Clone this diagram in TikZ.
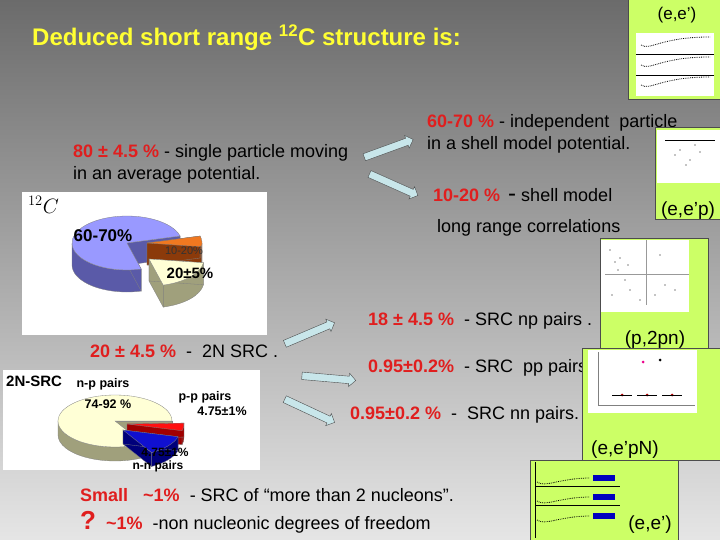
\documentclass[tikz,border=0pt]{standalone}
\usepackage{fontspec}
\setmainfont{Liberation Sans}
\usetikzlibrary{shapes.arrows}
\definecolor{tred}{HTML}{E01E1E}
\definecolor{lime}{HTML}{CCFF66}
\definecolor{title}{HTML}{FFFF33}
\definecolor{arrowfill}{HTML}{C8E6EA}
\definecolor{bluetop}{HTML}{9999FF}
\definecolor{blueside}{HTML}{5A5AA8}
\definecolor{ortop}{HTML}{F07820}
\definecolor{orside}{HTML}{8B3A0A}
\definecolor{crtop}{HTML}{FFFFD6}
\definecolor{crside}{HTML}{A0A07C}
\definecolor{rdtop}{HTML}{FF1010}
\definecolor{rdside}{HTML}{A00000}
\definecolor{bltop}{HTML}{1010D0}
\definecolor{blside}{HTML}{00007A}
\tikzset{
 txt/.style={anchor=west,inner sep=0pt,font=\fontsize{18}{20}\selectfont},
 panel/.style={fill=lime,draw=black!70,line width=1pt},
 plot/.style={fill=white,draw=none},
 plab/.style={font=\fontsize{19}{20}\selectfont,inner sep=0pt},
 barrow/.style={single arrow,draw=black!70,fill=arrowfill,minimum width=13pt,single arrow head extend=3pt,single arrow head indent=0pt,inner xsep=0pt,inner ysep=3.5pt,minimum height=#1},
 plbl/.style={font=\fontsize{12.5}{12.5}\selectfont\bfseries,inner sep=0pt},
}
\newcommand\rx{55}\newcommand\ry{27}\newcommand\dep{22}
\newcommand\pslice[7]{% dx dy a b top side frontlist
 \begin{scope}[shift={(#1,#2)}]
 \foreach \s/\e in {#7}{\fill[#6,draw=black!50,line width=.3pt] (\s:\rx pt and \ry pt) arc[start angle=\s,end angle=\e,x radius=\rx pt,y radius=\ry pt] -- ++(0pt,-\dep pt) arc[start angle=\e,end angle=\s,x radius=\rx pt,y radius=\ry pt] -- cycle;}
 \fill[#6,draw=black!50,line width=.3pt] (0pt,0pt) -- (#3:\rx pt and \ry pt) -- ++(0pt,-\dep pt) -- (0pt,-\dep pt) -- cycle;
 \fill[#6,draw=black!50,line width=.3pt] (0pt,0pt) -- (#4:\rx pt and \ry pt) -- ++(0pt,-\dep pt) -- (0pt,-\dep pt) -- cycle;
 \fill[#5,draw=black!50,line width=.3pt] (0pt,0pt) -- (#3:\rx pt and \ry pt) arc[start angle=#3,end angle=#4,x radius=\rx pt,y radius=\ry pt] -- cycle;
 \end{scope}}
\newcommand\tl{\textasciitilde}
\begin{document}
\begin{tikzpicture}[x=1pt,y=-1pt]
\shade[top color=black!58,bottom color=black!10] (0,0) rectangle (720,540);
\useasboundingbox (0,0) rectangle (720,540);
% title
\node[anchor=west,inner sep=0pt,text=title,font=\fontsize{24}{26}\selectfont\bfseries] (title) at (32,38) {Deduced short range \textsuperscript{12}C structure is:};
% first texts
\node[txt] (t80) at (73,153) {\textcolor{tred}{\bfseries 80 ± 4.5 \%} - single particle moving};
\node[txt] (t80b) at (73,175) {in an average potential.};
\node[txt] (t60) at (427,123) {\textcolor{tred}{\bfseries 60-70 \%} - independent\ \ particle};
\node[txt] (t60b) at (427,145) {in a shell model potential.};
\node[txt] (t10) at (433,195) {\textcolor{tred}{\bfseries 10-20 \%} \,{\fontsize{24}{24}\selectfont -} shell model};
\node[txt] (t10b) at (437,228) {long range correlations};
\node[txt] (t20) at (90,351) {\textcolor{tred}{\bfseries 20 ± 4.5 \%}\ \ -\ \ 2N SRC .};
\node[txt] (t18) at (368,321) {\textcolor{tred}{\bfseries 18 ± 4.5 \%}\ \ - SRC np pairs .};
\node[txt] (tpp) at (368,368) {\textcolor{tred}{\bfseries 0.95±0.2\%}\ \ - SRC\ \ pp pairs};
\node[txt] (tnn) at (350,415) {\textcolor{tred}{\bfseries 0.95±0.2 \%}\ \ -\ \ SRC nn pairs.};
\node[txt] (tsm) at (80,495) {\textcolor{tred}{\bfseries Small\ \ \ \tl1\%}\ \ - SRC of “more than 2 nucleons”.};
\node[txt] (tq) at (80,522) {\textcolor{tred}{\bfseries{\fontsize{26}{26}\selectfont ?}\ \ \tl1\%}\ \ -non nucleonic degrees of freedom};
% arrows
\node[barrow=52pt,rotate=20] (a1) at (387,149) {};
\node[barrow=53pt,rotate=-24] (a2) at (392,184) {};
\node[barrow=54pt,rotate=23] (a3) at (308,334) {};
\node[barrow=54pt,rotate=-5] (a4) at (327,378) {};
\node[barrow=55pt,rotate=-25] (a5) at (308,410) {};
% pie 1
\fill[white] (22,192) rectangle (267,335);
\node[anchor=north west,inner sep=0pt,font=\fontsize{20}{20}\selectfont] (c12) at (28,196) {$^{12}C$};
\begin{scope}[shift={(127,243)}]
 \pslice{0}{0}{15}{285}{bluetop}{blueside}{180/285}
 \pslice{20}{0}{-8}{15}{ortop}{orside}{352/360}
 \pslice{22}{16}{285}{352}{crtop}{crside}{285/352}
\end{scope}
\node[font=\fontsize{17}{17}\selectfont\bfseries,inner sep=0pt] (l60) at (103,236) {60-70\%};
\node[font=\fontsize{11}{11}\selectfont,inner sep=0pt,text=black!80] (l10) at (184,251) {10-20\%};
\node[font=\fontsize{15}{15}\selectfont\bfseries,inner sep=0pt] (l20) at (190,273) {20±5\%};
% pie 2
\fill[white] (3,370) rectangle (260,470);
\node[anchor=west,inner sep=0pt,font=\fontsize{15}{15}\selectfont\bfseries] (n2) at (6,381) {2N-SRC};
\renewcommand\rx{57}\renewcommand\ry{26}\renewcommand\dep{14}
\begin{scope}[shift={(115,421)}]
 \pslice{0}{0}{0}{300}{crtop}{crside}{180/300}
 \pslice{12}{3}{345}{362}{rdtop}{rdside}{345/362}
 \pslice{8}{9}{300}{345}{bltop}{blside}{300/345}
\end{scope}
\node[plbl] (np) at (103,384) {n-p pairs};
\node[plbl] (np2) at (108,404) {74-92 \%};
\node[plbl] (pp) at (205,397) {p-p pairs};
\node[plbl] (pp2) at (222,411) {4.75±1\%};
\node[plbl,font=\fontsize{12}{12}\selectfont\bfseries] (nn2) at (165,452) {4.75±1\%};
\node[plbl,font=\fontsize{12}{12}\selectfont\bfseries] (nn) at (158,466) {n-n pairs};
% panels
\draw[panel] (628,0) rectangle (720,100);
\fill[plot] (636,33) rectangle (714,96);
\foreach \yy in {45,65,85}{\draw[densely dotted,thick] (641,\yy) .. controls (650,\yy+6) and (660,\yy-8) .. (710,\yy-8);}
\draw (636,54)--(714,54) (636,75)--(714,75);
\node[plab,font=\fontsize{17}{17}\selectfont] (p1) at (677,15) {(e,e')};
\draw[panel] (655,128) rectangle (722,220);
\fill[plot] (657,130) rectangle (720,183);
\foreach \px/\py in {675/155, 680/150, 690/160, 700/152, 686/165, 695/145}{\fill (\px,\py) circle (0.6);}
\draw (665,140)--(715,140);
\node[plab] (p2) at (688,211) {(e,e'p)};
\draw[panel] (600,238) rectangle (708,352);
\fill[plot] (601,240) rectangle (689,312);
\draw[black!40] (646,240)--(646,305) (605,274)--(689,274);
\foreach \px/\py in {610/250, 615/262, 620/258, 625/280, 630/290, 612/295, 640/300, 655/295, 665/285, 675/290, 660/255, 618/270, 628/265}{\fill (\px,\py) circle (0.6);}
\node[plab] (p3) at (655,340) {(p,2pn)};
\draw[panel] (582,348) rectangle (722,460);
\fill[plot] (588,350) rectangle (697,413);
\draw[black!50] (598,352)--(598,405)--(695,405);
\fill[magenta] (643,362) circle (1.5); \fill (660,360) circle (1.5);
\foreach \px in {622,647,672}{\fill[red!70!black] (\px,395) circle (1.5); \draw (\px-10,395)--(\px+10,395);}
\node[plab] (p4) at (625,450) {(e,e'pN)};
\draw[panel] (530,460) rectangle (678,542);
\foreach \yy in {478,497,516}{\draw[densely dotted,thick] (537,\yy+4) .. controls (545,\yy+10) and (560,\yy) .. (590,\yy); \fill[blue!75!black] (593,\yy-3) rectangle (615,\yy+3);}
\draw (535,486)--(620,486) (535,505)--(620,505) (535,462)--(535,538);
\node[plab] (p5) at (650,525) {(e,e')};
\end{tikzpicture}
\end{document}
